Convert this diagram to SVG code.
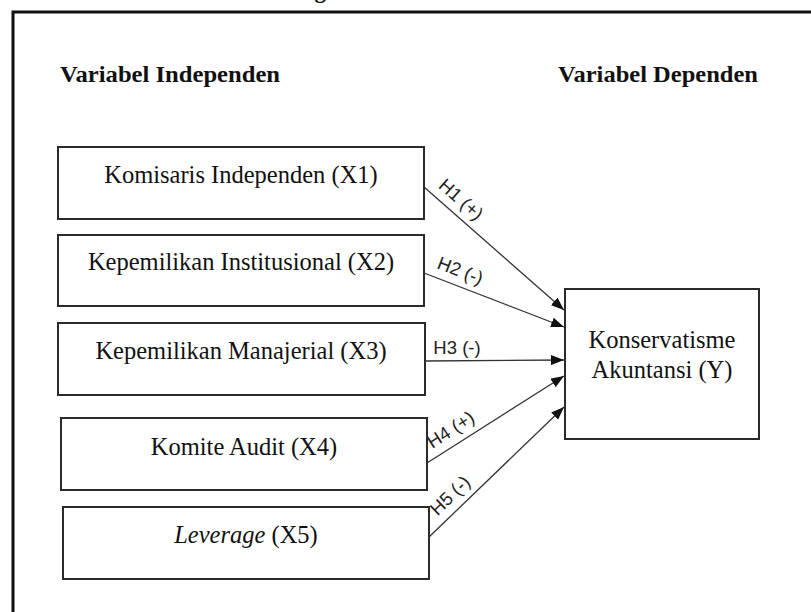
<svg xmlns="http://www.w3.org/2000/svg" width="811" height="612" viewBox="0 0 811 612">
<style>
.box{fill:#fff;stroke:#2b2b2b;stroke-width:2}
.nt{font-family:"Liberation Serif","Times New Roman",serif;font-size:24.5px;fill:#111;text-anchor:middle}
.hd{font-family:"Liberation Serif","Times New Roman",serif;font-size:23px;font-weight:bold;fill:#111}
.lb{font-family:"Liberation Sans",Arial,sans-serif;font-size:18.5px;fill:#222;text-anchor:middle}
.cn{stroke:#333;stroke-width:1.3;fill:none;marker-end:url(#ah)}
</style>
<defs>
<marker id="ah" markerUnits="userSpaceOnUse" markerWidth="13" markerHeight="10" refX="13" refY="5" orient="auto">
<path d="M0,0 L13,5 L0,10 z" fill="#111"/>
</marker>
</defs>
<rect width="811" height="612" fill="#fff"/>
<text class="hd" x="252" y="-2" font-size="22" fill="#555">Kerangka Pemikiran</text>
<rect x="13" y="12" width="830" height="640" fill="none" stroke="#111" stroke-width="3"/>
<text class="hd" x="60" y="82" textLength="220" lengthAdjust="spacingAndGlyphs">Variabel Independen</text>
<text class="hd" x="558" y="82" textLength="200" lengthAdjust="spacingAndGlyphs">Variabel Dependen</text>
<g id="connectors">
<line class="cn" x1="424" y1="187" x2="564" y2="310"/>
<line class="cn" x1="424" y1="273" x2="564" y2="327"/>
<line class="cn" x1="425" y1="361" x2="564" y2="360"/>
<line class="cn" x1="427" y1="463" x2="564" y2="376"/>
<line class="cn" x1="429" y1="537" x2="564" y2="407"/>
<g transform="translate(424,187) rotate(41.5)"><text class="lb" x="36" y="-9">H1 (+)</text></g>
<g transform="translate(424,273) rotate(21.2)"><text class="lb" x="33" y="-9">H2 (-)</text></g>
<text class="lb" x="457" y="354">H3 (-)</text>
<g transform="translate(427,463) rotate(-32.6)"><text class="lb" x="38" y="-9">H4 (+)</text></g>
<g transform="translate(429,537) rotate(-44)"><text class="lb" x="44" y="-9">H5 (-)</text></g>
</g>
<g id="x1"><rect class="box" x="58" y="147" width="366" height="72"/><text class="nt" x="241" y="183">Komisaris Independen (X1)</text></g>
<g id="x2"><rect class="box" x="58" y="235" width="366" height="71"/><text class="nt" x="241" y="270">Kepemilikan Institusional (X2)</text></g>
<g id="x3"><rect class="box" x="58" y="323" width="367" height="72"/><text class="nt" x="241" y="359">Kepemilikan Manajerial (X3)</text></g>
<g id="x4"><rect class="box" x="61" y="418" width="366" height="72"/><text class="nt" x="244" y="455">Komite Audit (X4)</text></g>
<g id="x5"><rect class="box" x="63" y="507" width="366" height="72"/><text class="nt" x="246" y="543"><tspan font-style="italic">Leverage</tspan> (X5)</text></g>
<g id="y"><rect class="box" x="565" y="289" width="194" height="150"/><text class="nt" x="662" y="348">Konservatisme</text><text class="nt" x="662" y="378">Akuntansi (Y)</text></g>
</svg>
